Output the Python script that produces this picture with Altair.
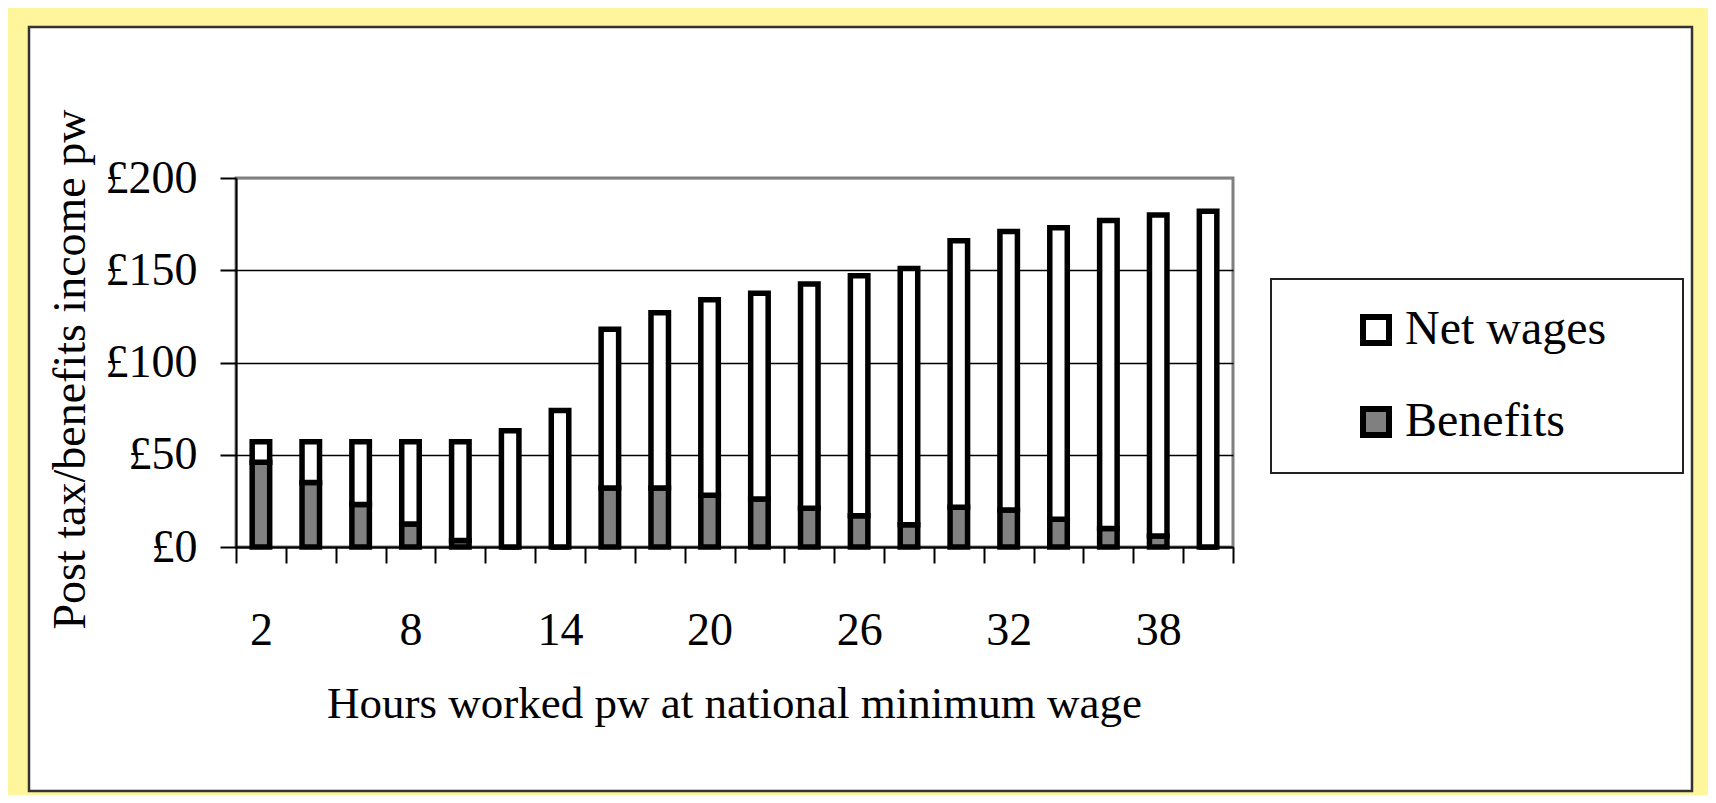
import altair as alt
import pandas as pd

# ---- data ----
hours = [2, 4, 6, 8, 10, 12, 14, 16, 18, 20, 22, 24, 26, 28, 30, 32, 34, 36, 38, 40]
benefits = [46, 35, 23, 12.5, 3.5, 0, 0, 32, 32, 28, 26, 21, 17, 12, 21.5, 20, 15, 10, 6, 0]
net_wages = [11, 22, 34, 44.5, 53.5, 63, 74, 86, 95, 106, 111.5, 121.5, 130, 139, 144.5, 151, 158, 167, 174, 182]
series = ["Net wages", "Benefits"]
series_colors = ["#FFFFFF", "#808080"]
y_ticks = [0, 50, 100, 150, 200]

rows = []
for h, b, n in zip(hours, benefits, net_wages):
    rows.append({"hours": h, "series": "Benefits", "value": b, "stack_order": 0})
    rows.append({"hours": h, "series": "Net wages", "value": n, "stack_order": 1})
df = pd.DataFrame(rows)

FONT = "Liberation Serif"
FS = 46
W, H = 997, 369

one = alt.Data(values=[{"k": 1}])

# decorative frames (yellow surround, inner black border, legend box)
yellow_frame = alt.Chart(one).mark_rect(fillOpacity=0, stroke="#FFF59D", strokeWidth=20).encode(
    x=alt.value(-218), x2=alt.value(1466), y=alt.value(-161), y2=alt.value(623)
)
inner_border = alt.Chart(one).mark_rect(fillOpacity=0, stroke="#333333", strokeWidth=2.5).encode(
    x=alt.value(-207), x2=alt.value(1456), y=alt.value(-151), y2=alt.value(613)
)
legend_box = alt.Chart(one).mark_rect(fill="white", stroke="#222222", strokeWidth=2).encode(
    x=alt.value(1035), x2=alt.value(1447), y=alt.value(101), y2=alt.value(295)
)

bars = alt.Chart(df).mark_bar(size=17.5, stroke="black", strokeWidth=5.5).encode(
    x=alt.X(
        "hours:O",
        scale=alt.Scale(paddingInner=0, paddingOuter=0),
        axis=alt.Axis(
            title="Hours worked pw at national minimum wage",
            labelExpr="(datum.value - 2) % 6 == 0 ? datum.label : ''",
            labelAngle=0,
            labelOverlap=False,
            tickBand="extent",
            tickSize=16,
            tickWidth=2,
            tickColor="black",
            domainColor="black",
            domainWidth=2,
            labelFont=FONT,
            labelFontSize=FS,
            labelColor="black",
            labelBaseline="alphabetic",
            labelPadding=81,
            titleFont=FONT,
            titleFontSize=45,
            titleFontWeight="normal",
            titleColor="black",
            titleX=498,
            titleY=170,
            titleBaseline="alphabetic",
            titleAlign="center",
            grid=False,
        ),
    ),
    y=alt.Y(
        "value:Q",
        stack="zero",
        scale=alt.Scale(domain=[0, 200], nice=False),
        axis=alt.Axis(
            title="Post tax/benefits income pw",
            values=y_ticks,
            labelExpr="'£' + datum.value",
            tickSize=16,
            tickWidth=2,
            tickColor="black",
            domainColor="black",
            domainWidth=2,
            grid=True,
            gridColor={"condition": {"test": "datum.value >= 200", "value": "#808080"}, "value": "black"},
            gridWidth=1.5,
            labelFont=FONT,
            labelFontSize=FS,
            labelColor="black",
            labelPadding=23,
            titleFont=FONT,
            titleFontSize=FS,
            titleFontWeight="normal",
            titleColor="black",
            titleAngle=270,
            titleX=-152,
            titleY=191,
            titleBaseline="alphabetic",
            titleAlign="center",
        ),
    ),
    color=alt.Color(
        "series:N",
        scale=alt.Scale(domain=series, range=series_colors),
        legend=alt.Legend(
            title=None,
            orient="none",
            legendX=1116,
            legendY=128,
            padding=0,
            labelFont=FONT,
            labelFontSize=48,
            labelColor="black",
            labelOffset=5,
            labelLimit=500,
            symbolType="square",
            symbolSize=676,
            symbolStrokeColor="black",
            symbolStrokeWidth=6,
            symbolOpacity=1,
            rowPadding=42,
        ),
    ),
    order=alt.Order("stack_order:Q", sort="ascending"),
)

chart = alt.layer(yellow_frame, inner_border, legend_box, bars).properties(
    width=W,
    height=H,
    autosize=alt.AutoSizeParams(type="none"),
    padding={"left": 228, "top": 170, "right": 475, "bottom": 248},
    background="white",
).configure_view(stroke="#808080", strokeWidth=3)

chart.save("out.html", embed_options={"renderer": "svg", "actions": False})
